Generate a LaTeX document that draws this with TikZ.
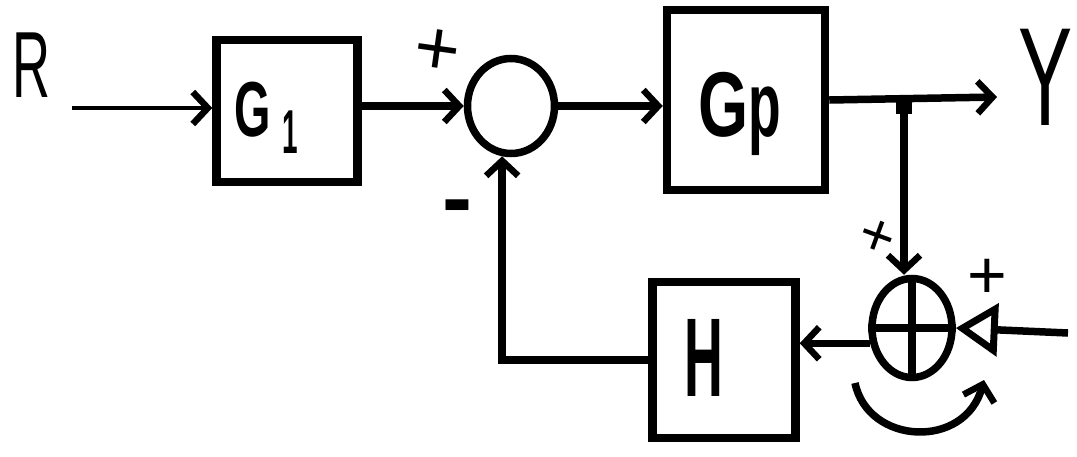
\documentclass[tikz,border=0pt]{standalone}
\usepackage{fontspec}
\setmainfont{Liberation Sans}
\usetikzlibrary{arrows.meta,shapes.geometric}
\tikzset{
  blk/.style={draw, line width=8.5pt, minimum width=#1, inner sep=0pt},
  sumnode/.style={draw, ellipse, line width=7.5pt, inner sep=0pt},
  wire/.style={line width=7.5pt},
  arr/.style={wire, -{Straight Barb[length=15pt,width=32pt,line width=6.5pt]}},
  txt/.style={anchor=base west, inner sep=0pt},
  sgn/.style={inner sep=0pt, font=\fontsize{70}{70}\selectfont\bfseries}
}
\begin{document}
\begin{tikzpicture}[x=1pt,y=-1pt]
\useasboundingbox (0,0) rectangle (1077,456);
\clip (0,0) rectangle (1077,456);
% blocks
\node[blk=141pt, minimum height=142pt] (g1) at (287,111) {};
\node[blk=158pt, minimum height=180pt] (gp) at (746,100) {};
\node[blk=143pt, minimum height=156pt] (h) at (724,360) {};
\node[sumnode, minimum width=87pt, minimum height=95pt] (s1) at (511,106) {};
\node[sumnode, minimum width=80pt, minimum height=99pt] (s2) at (912,328) {};
% labels
\node[txt, font=\fontsize{94}{94}\selectfont] (rl) at (12,97) {\scalebox{0.56}[1]{R}};
\node[txt] (g1l) at (234,136) {{\fontsize{78}{78}\selectfont\bfseries\scalebox{0.6}[1]{G}}\hspace{12pt}\raisebox{-17pt}{\fontsize{62}{62}\selectfont\bfseries\scalebox{0.45}[1]{1}}};
\node[txt, font=\fontsize{92}{92}\selectfont\bfseries] (gpl) at (698,136) {\scalebox{0.7}[1]{G}\scalebox{0.58}[1]{p}};
\node[txt, font=\fontsize{112}{112}\selectfont\bfseries] (hl) at (684,396) {\scalebox{0.48}[1]{H}};
\node[txt, font=\fontsize{140}{140}\selectfont] (yl) at (1018,125) {\scalebox{0.58}[1]{Y}};
% signs
\node[sgn, rotate=-8, font=\fontsize{78}{78}\selectfont] (p1) at (437,52) {+};
\node[sgn, font=\fontsize{90}{90}\selectfont\bfseries] (m1) at (457,214) {-};
\node[sgn, rotate=-20, font=\fontsize{60}{60}\selectfont] (p2) at (877,238) {+};
\node[sgn, font=\fontsize{68}{68}\selectfont] (p3) at (987,279) {+};
% cross in s2
\draw[wire] (s2.north) -- (s2.south);
\draw[wire] (s2.west) -- (s2.east);
% coordinates
\coordinate (rin) at (72,108);
\coordinate (j) at (904,100);
\coordinate (yend) at (997,97);
\coordinate (din) at (1068,333);
% connectors
\draw[arr, line width=4.5pt] (rin) -- (g1.west |- rin);
\draw[arr] (g1.east |- s1.west) -- (s1.west);
\draw[arr] (s1.east) -- (gp.west |- s1.east);
\draw[arr] (gp.east |- j) -- (yend);
\draw[arr] (j) -- (j |- s2.north);
\fill (j) ++(-8,-4) rectangle ++(16,18);
\draw[wire, -{Triangle[open, length=42pt, width=52pt, line width=7pt]}] (din) -- (s2.east);
\draw[arr] (s2.200) -- (s2.200 -| h.east);
\draw[arr] (h.west) -| (s1.260);
% rotation arrow
\draw[arr] (855,383) .. controls (868,445) and (965,450) .. (984,380);
\end{tikzpicture}
\end{document}
